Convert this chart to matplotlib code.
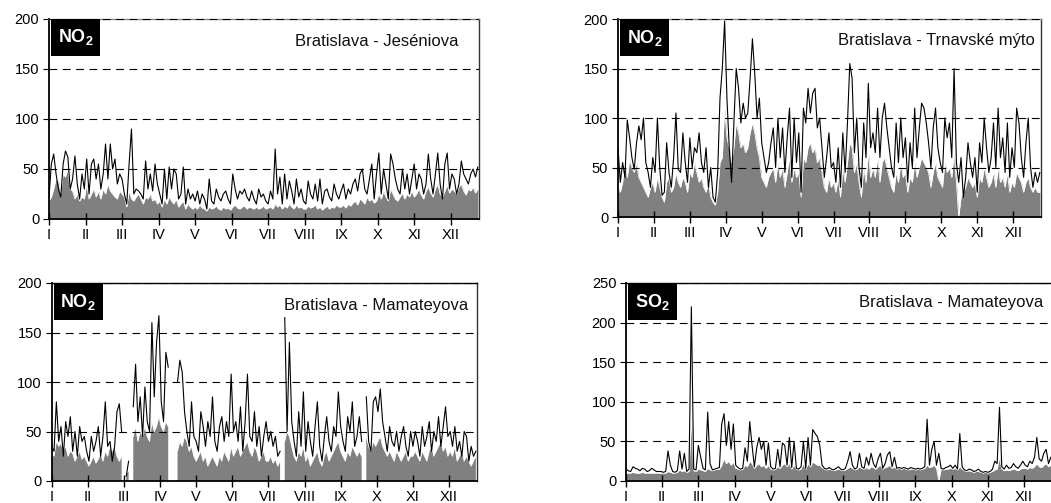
import numpy as np
import matplotlib
matplotlib.use("Agg")
import matplotlib.pyplot as plt
from matplotlib.patches import Rectangle

plt.rcParams['font.family'] = ['Liberation Sans', 'DejaVu Sans']
plt.rcParams['mathtext.default'] = 'regular'

nan = np.nan
days = np.arange(0, 366, 2)  # 183 sample days
month_ticks = [0, 31, 62, 93, 124, 155, 186, 217, 248, 279, 310, 341]
month_labels = ['I', 'II', 'III', 'IV', 'V', 'VI', 'VII', 'VIII', 'IX', 'X', 'XI', 'XII']

# ---- Bratislava - Jeséniova NO2 ----
jes_max = [22,55,65,45,30,22,55,68,62,30,40,63,35,20,45,30,
           60,25,55,60,40,55,30,45,75,40,75,50,60,35,45,
           40,25,15,55,90,25,30,28,25,20,58,30,45,28,55,35,
           25,15,50,20,52,30,50,45,20,25,52,15,30,20,25,
           18,28,15,25,20,10,40,18,15,30,22,18,25,28,20,15,
           45,30,20,28,25,30,22,18,28,20,15,30,22,25,18,
           15,28,20,70,25,42,15,45,20,38,28,15,40,22,30,18,
           15,38,25,20,35,18,40,15,28,30,22,18,35,25,20,
           28,35,20,30,25,35,40,28,45,50,30,25,40,55,20,45,
           66,25,50,35,20,65,55,40,30,25,50,30,45,25,40,
           55,30,45,40,25,35,65,40,25,45,66,35,20,55,66,30,
           45,40,25,35,58,45,40,35,45,50,42,52]
jes_avg = [18,22,30,40,38,25,45,42,50,30,28,20,25,18,22,20,
           35,20,25,30,22,28,20,30,25,35,28,25,22,20,28,
           25,22,12,28,20,18,22,25,20,15,22,20,25,18,20,15,
           18,12,20,15,22,18,15,20,12,15,18,10,15,12,10,
           12,10,14,11,10,8,12,10,11,13,10,9,12,10,11,9,
           12,14,11,10,12,13,10,12,11,10,12,10,11,13,10,
           11,12,10,15,12,14,10,13,11,15,12,10,14,11,12,10,
           10,13,11,12,14,10,12,9,11,13,10,12,11,14,12,
           12,14,11,15,13,16,18,14,20,18,15,22,18,20,16,18,
           25,20,28,22,18,30,25,20,18,22,26,20,25,22,28,
           22,25,30,24,20,28,32,26,22,30,35,25,22,28,34,26,
           30,28,25,32,35,28,24,30,28,32,26,30]

# ---- Bratislava - Trnavské mýto NO2 ----
trn_max = [70,35,55,40,98,80,60,48,75,92,78,100,55,45,30,60,
           45,100,50,22,25,75,45,30,60,105,48,45,85,55,35,
           80,50,70,65,85,55,45,70,30,50,20,15,45,120,150,198,
           120,70,35,95,150,130,95,115,100,105,140,180,145,100,120,
           75,60,45,55,75,90,50,100,60,90,45,80,110,40,100,55,
           85,25,110,95,130,105,125,130,90,100,70,40,60,85,50,
           55,35,70,30,85,45,95,155,140,65,100,50,30,95,60,135,
           70,85,65,110,60,100,115,90,70,50,40,95,55,100,60,
           80,35,75,50,110,60,90,115,110,95,75,50,90,110,70,55,
           45,100,80,95,60,150,55,35,60,20,40,75,55,40,60,
           25,75,55,100,70,45,60,95,50,110,60,80,45,95,40,70,
           50,110,95,60,40,75,100,50,30,45,35,45]
trn_avg = [30,25,35,55,40,58,50,45,55,40,35,30,25,20,30,35,
           25,40,30,20,15,35,40,25,30,45,35,30,40,35,25,
           45,40,55,45,35,40,30,25,35,20,15,12,25,55,60,110,
           80,70,55,70,95,85,70,75,65,70,85,95,85,70,60,
           40,35,30,40,45,50,35,55,40,50,30,45,60,35,50,40,
           45,20,60,55,70,75,65,70,55,60,45,30,25,40,30,
           35,25,40,20,50,35,55,75,70,45,55,35,20,50,35,65,
           40,50,40,60,35,55,60,50,40,30,25,45,35,55,40,
           45,25,40,35,55,40,50,60,55,50,45,30,45,55,40,35,
           30,55,45,50,40,65,35,0,20,25,30,40,35,30,35,
           20,40,35,50,40,30,35,45,30,50,35,40,30,45,25,35,
           30,45,40,35,25,35,40,30,25,30,25,25]

# ---- Bratislava - Mamateyova NO2 ----
mam_max = [35,30,80,40,55,25,60,45,65,30,50,25,55,40,45,30,
           20,45,30,40,55,25,45,80,35,40,20,35,70,78,50,
           nan,5,20,nan,75,118,60,85,45,95,60,50,160,85,140,167,
           80,60,130,115,nan,nan,nan,100,122,110,70,50,35,80,45,
           40,30,70,55,35,60,45,85,40,30,55,65,40,60,45,108,
           50,60,40,75,30,60,108,45,40,70,35,55,25,45,60,
           40,50,35,45,25,30,nan,165,50,140,60,40,25,70,35,90,
           30,60,40,25,55,80,35,20,45,65,40,30,55,45,90,
           55,40,30,65,50,80,35,45,65,40,nan,85,40,30,80,85,
           70,93,60,45,30,55,40,35,50,30,45,55,35,25,50,
           35,50,40,25,55,35,45,60,30,50,40,65,35,55,75,45,
           50,35,55,30,40,25,50,45,20,35,25,30]
mam_avg = [28,25,40,35,38,30,35,25,30,28,20,25,30,22,25,20,
           15,20,25,18,22,28,20,30,25,35,30,35,25,20,25,
           nan,8,10,nan,45,55,40,50,45,55,45,40,60,50,55,65,
           55,50,60,55,nan,nan,nan,30,40,35,45,40,30,35,25,
           20,25,30,20,25,15,20,25,20,15,25,20,30,25,20,35,
           25,30,35,25,30,35,40,30,25,35,30,20,25,30,20,
           20,25,18,22,15,20,nan,40,50,45,35,25,20,30,25,35,
           20,25,15,20,25,30,20,15,25,30,20,25,30,35,40,
           30,25,20,30,25,35,30,25,30,25,nan,45,35,30,40,35,
           40,45,35,30,25,30,25,20,30,25,20,25,30,20,25,
           25,30,25,20,30,25,20,30,35,25,30,35,40,30,35,25,
           30,25,35,20,25,30,20,25,20,15,20,25]

# ---- Bratislava - Mamateyova SO2 ----
so2_max = [15,13,12,18,16,15,13,16,15,12,13,16,14,12,12,12,
           11,12,38,20,12,11,13,38,15,35,12,15,220,15,14,
           45,30,16,14,87,22,14,15,16,17,72,85,45,75,40,72,
           20,17,15,16,42,25,75,45,18,42,55,40,50,20,48,
           18,15,16,40,18,48,45,20,55,17,50,16,15,18,50,16,
           55,20,65,60,56,45,20,16,15,17,15,14,16,18,15,
           14,16,25,37,20,15,17,35,18,16,30,20,35,22,17,28,
           35,16,22,33,37,18,30,16,17,16,17,16,15,17,16,
           15,16,15,16,18,78,20,40,50,20,35,16,15,17,18,20,
           16,20,15,60,18,14,13,15,14,12,13,15,12,11,12,
           11,12,15,25,22,93,18,15,20,16,17,22,18,16,20,25,
           20,18,25,22,30,55,28,25,35,40,22,30]
so2_avg = [10,10,10,11,10,10,10,11,10,10,10,10,10,10,10,10,
           10,10,12,11,10,10,11,14,12,13,11,12,80,13,12,
           15,14,13,12,16,14,13,14,15,15,20,28,22,25,20,24,
           16,15,14,15,20,18,25,22,16,20,22,18,20,16,20,
           15,14,15,18,16,20,22,18,22,15,20,15,14,15,22,15,
           22,18,24,22,20,20,17,15,14,15,14,13,14,15,14,
           13,14,16,18,16,14,15,18,16,15,17,15,18,17,15,18,
           20,15,17,18,20,16,18,15,16,15,16,15,14,15,15,
           14,15,14,15,16,20,17,18,20,16,0,15,14,15,15,16,
           15,16,14,18,15,13,12,13,12,11,12,12,11,10,11,
           10,11,12,14,15,30,15,13,14,13,14,15,14,13,15,16,
           16,15,17,16,18,22,18,17,20,22,18,20]

W, H = 1051, 503
fig = plt.figure(figsize=(W / 100, H / 100), dpi=100)

def px_axes(left, top, right, bottom):
    return fig.add_axes([left / W, 1 - bottom / H, (right - left) / W, (bottom - top) / H])

panels = [
    dict(box=(49, 19, 479, 219), mx=jes_max, av=jes_avg, ymax=200, label='NO$_2$',
         title='Bratislava - Jeséniova', tx=0.953, ty=0.925, topcol='#8a8a8a'),
    dict(box=(618, 19, 1041, 217), mx=trn_max, av=trn_avg, ymax=200, label='NO$_2$',
         title='Bratislava - Trnavské mýto', tx=0.986, ty=0.93, topcol='#8a8a8a'),
    dict(box=(51.7, 283, 477, 481), mx=mam_max, av=mam_avg, ymax=200, label='NO$_2$',
         title='Bratislava - Mamateyova', tx=0.979, ty=0.925, topcol='black'),
    dict(box=(626, 283, 1052, 481), mx=so2_max, av=so2_avg, ymax=250, label='SO$_2$',
         title='Bratislava - Mamateyova', tx=0.979, ty=0.94, topcol='black'),
]

for p in panels:
    l, t, r, b = p['box']
    ax = px_axes(l, t, r, b)
    av = np.array(p['av'], dtype=float)
    mx = np.array(p['mx'], dtype=float)
    ax.fill_between(days, 0, av, color='#808080', linewidth=0, zorder=1)
    ax.plot(days, av, color='white', linewidth=0.6, zorder=2)
    for yv in range(50, p['ymax'] + 1, 50):
        ax.axhline(yv, color='black', linewidth=0.8, linestyle=(0, (7, 5)), zorder=3)
    ax.plot(days, mx, color='black', linewidth=0.8, zorder=4)
    ax.set_xlim(0, 365)
    ax.set_ylim(0, p['ymax'])
    ax.set_yticks(range(0, p['ymax'] + 1, 50))
    ax.set_xticks(month_ticks)
    ax.set_xticklabels(month_labels)
    ax.tick_params(axis='x', direction='inout', length=8, width=1, labelsize=10.5, pad=2.5)
    ax.tick_params(axis='y', direction='out', length=4, width=0.8, labelsize=10.5, pad=3)
    for s in ['left', 'bottom']:
        ax.spines[s].set_linewidth(1.3)
        ax.spines[s].set_color('black')
    ax.spines['top'].set_linewidth(1.0)
    ax.spines['top'].set_color(p['topcol'])
    ax.spines['right'].set_linewidth(1.0)
    ax.spines['right'].set_color('#333333')
    bw = 49 / (r - l)
    bh = 37 / (b - t)
    bx = 2 / (r - l)
    ax.add_patch(Rectangle((bx, 1 - bh), bw, bh, transform=ax.transAxes,
                           facecolor='black', edgecolor='none', zorder=6, clip_on=False))
    ax.text(bx + bw / 2, 1 - bh / 2, p['label'], transform=ax.transAxes, color='white',
            fontsize=13, fontweight='bold', ha='center', va='center', zorder=7)
    ax.text(p['tx'], p['ty'], p['title'], transform=ax.transAxes, ha='right', va='top',
            fontsize=12, color='#111111', zorder=7)

fig.savefig('out.png', dpi=100)
